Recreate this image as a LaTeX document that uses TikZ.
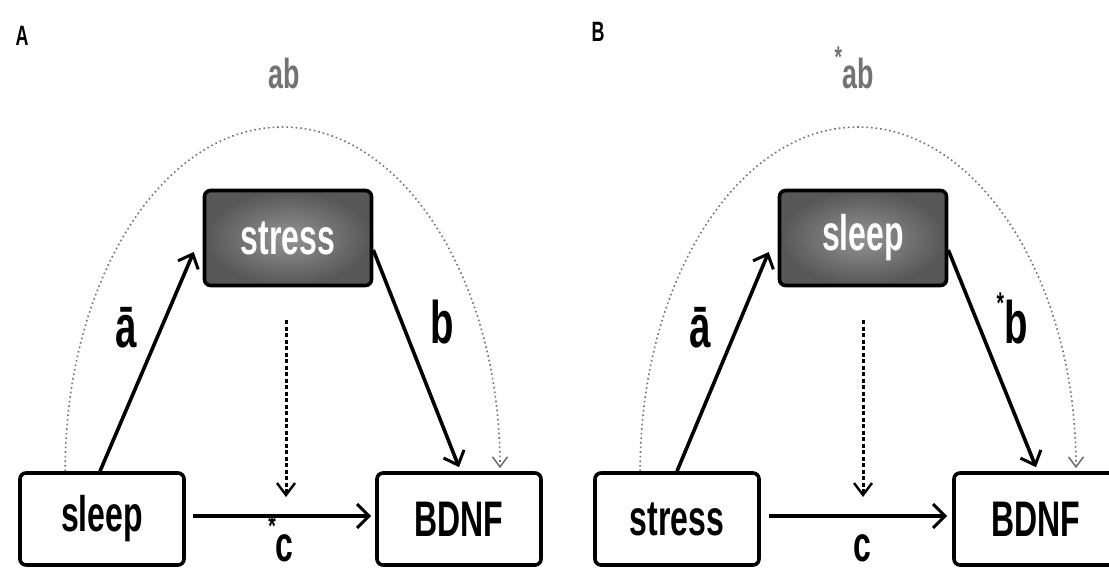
\documentclass[tikz,border=0pt]{standalone}
\usepackage{fontspec}
\setmainfont{Liberation Sans}[FakeStretch=0.64]
\usetikzlibrary{arrows.meta,calc}
\newcommand{\sigmk}{\raisebox{0.5em}{\fontsize{30pt}{30pt}\selectfont\bfseries *}}
\tikzset{
  plainbox/.style={draw=black, line width=3.6pt, rounded corners=6pt, minimum width=164pt,
    minimum height=92pt, inner sep=0pt, fill=white, font=\bfseries\fontsize{50pt}{50pt}\selectfont},
  medbox/.style={draw=black, line width=3.6pt, rounded corners=6pt, minimum width=167pt,
    minimum height=95pt, inner sep=0pt, inner color=black!42, outer color=black!66,
    text=white, font=\bfseries\fontsize{50pt}{50pt}\selectfont},
  patharrow/.style={line width=3.6pt, -{Straight Barb[length=12pt,width=22pt,line width=3pt]}},
  directarrow/.style={line width=3.6pt, -{Straight Barb[length=12pt,width=24pt,line width=3pt]}},
  indirect/.style={line width=3pt, dash pattern=on 4pt off 2.5pt,
    -{Straight Barb[length=12pt,width=18pt,line width=2.4pt]}},
  totalarc/.style={draw=black!55, line width=1.6pt, dash pattern=on 1.6pt off 3pt,
    -{Straight Barb[length=10pt,width=15pt,line width=1.6pt]}},
  coef/.style={font=\bfseries\fontsize{60pt}{60pt}\selectfont, inner sep=0pt, anchor=base},
  ablabel/.style={font=\bfseries\fontsize{42pt}{42pt}\selectfont, text=black!55, inner sep=0pt, anchor=base},
  clabel/.style={font=\bfseries\fontsize{50pt}{50pt}\selectfont, inner sep=0pt, anchor=base},
  panel/.style={font=\bfseries\fontsize{28pt}{28pt}\selectfont, inner sep=0pt}
}
\begin{document}
\begin{tikzpicture}[x=1pt,y=-1pt]
\useasboundingbox (0,0) rectangle (1109,570);
\fill[white] (0,0) rectangle (1109,570);
\clip (0,0) rectangle (1109,570);

% ---------- Panel A ----------
\node[panel] (labA) at (22,36) {A};
\node[plainbox] (sleepA) at (102,519) {sleep};
\node[medbox] (stressA) at (288,238) {stress};
\node[plainbox] (bdnfA) at (459,519) {BDNF};

\coordinate (arcA1) at ($(sleepA.north west)+(47,0)$);
\coordinate (arcA2) at ($(bdnfA.north)+(41,-3)$);
\draw[totalarc] (arcA1) .. controls (65,281) and (162,127) .. (282.5,127)
  .. controls (403,127) and (500,281) .. (arcA2);
\node[ablabel] (abA) at (284,88) {ab};

\draw[patharrow] ($(sleepA.north)+(-2,0)$) -- ($(stressA.west)+(-9,14)$);
\draw[patharrow] ($(stressA.east)+(0,12)$) -- ($(bdnfA.north)+(0,-4)$);
\coordinate (dA1) at (286,320);
\coordinate (dA2) at (286,497);
\draw[indirect] (dA1) -- (dA2);
\draw[directarrow] ($(sleepA.east)+(7,-3)$) -- ($(bdnfA.west)+(-4,-3)$);

\node[coef] (aA) at (126,347) {\=a};
\node[coef] (bA) at (442,343) {b};
\node[clabel] (cA) at (281,561) {\sigmk c};

% ---------- Panel B ----------
\node[panel] (labB) at (598,32) {B};
\node[plainbox] (stressB) at (677,519) {stress};
\node[medbox] (sleepB) at (863,238) {sleep};
\node[plainbox] (bdnfB) at (1036,519) {BDNF};

\coordinate (arcB1) at ($(stressB.north west)+(47,0)$);
\coordinate (arcB2) at ($(bdnfB.north)+(40,-3)$);
\draw[totalarc] (arcB1) .. controls (640,281) and (738,127) .. (858,127)
  .. controls (978,127) and (1076,281) .. (arcB2);
\node[ablabel] (abB) at (854,88) {\sigmk ab};

\draw[patharrow] (stressB.north) -- ($(sleepB.west)+(-9,14)$);
\draw[patharrow] ($(sleepB.east)+(0,12)$) -- ($(bdnfB.north)+(0,-4)$);
\coordinate (dB1) at (863,320);
\coordinate (dB2) at (863,497);
\draw[indirect] (dB1) -- (dB2);
\draw[directarrow] ($(stressB.east)+(8,-3)$) -- ($(bdnfB.west)+(-5,-3)$);

\node[coef] (aB) at (700,347) {\=a};
\node[coef] (bB) at (1012,343) {\sigmk b};
\node[clabel] (cB) at (862,561) {c};
\end{tikzpicture}
\end{document}
